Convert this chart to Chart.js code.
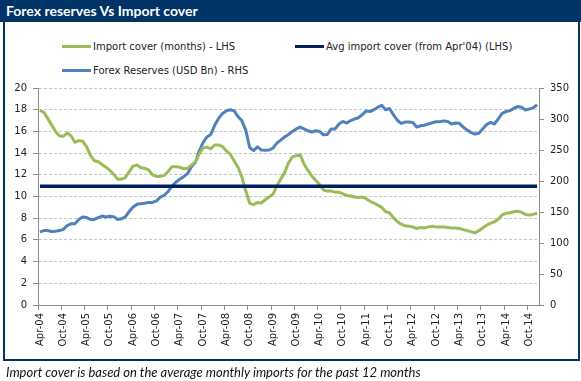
<!DOCTYPE html>
<html>
<head>
<meta charset="utf-8">
<script src="https://cdn.jsdelivr.net/npm/chart.js@4.4.1/dist/chart.umd.min.js"></script>
<style>
  html, body { margin: 0; padding: 0; background: #fff; }
  #wrap { position: relative; width: 581px; height: 381px; overflow: hidden; }
  #frame { position: absolute; left: 3px; top: 20px; width: 577px; height: 341px; border: 2px solid #003366; box-sizing: border-box; }
  #titleBar { position: absolute; left: 0; top: 0; width: 581px; height: 22px; background: #003366; color: #fff;
    font: bold 14px Lato, sans-serif; line-height: 22px; padding-left: 6px; box-sizing: border-box; }
  .lg { position: absolute; font: 10px "DejaVu Sans", sans-serif; color: #222; white-space: nowrap; height: 14px; line-height: 14px; }
  .lg i { display: inline-block; width: 29px; height: 3px; vertical-align: middle; margin-right: 2px; margin-top: -2px; }
  #note { position: absolute; left: 6px; top: 364px; font: italic 13px Lato, sans-serif; line-height: 16px; color: #111; white-space: nowrap; }
  canvas { position: absolute; left: 0; top: 0; }
</style>
</head>
<body>
<div id="wrap">
  <div id="frame"></div>
  <div id="titleBar">Forex reserves Vs Import cover</div>
  <div id="legend"></div>
  <canvas id="chart" width="581" height="381"></canvas>
  <div id="note">Import cover is based on the average monthly imports for the past 12 months</div>
</div>
<script>
// monthly categories, Apr-04 .. Dec-14
const months = [
  "Apr-04","May-04","Jun-04","Jul-04","Aug-04","Sep-04","Oct-04","Nov-04","Dec-04",
  "Jan-05","Feb-05","Mar-05","Apr-05","May-05","Jun-05","Jul-05","Aug-05","Sep-05","Oct-05","Nov-05","Dec-05",
  "Jan-06","Feb-06","Mar-06","Apr-06","May-06","Jun-06","Jul-06","Aug-06","Sep-06","Oct-06","Nov-06","Dec-06",
  "Jan-07","Feb-07","Mar-07","Apr-07","May-07","Jun-07","Jul-07","Aug-07","Sep-07","Oct-07","Nov-07","Dec-07",
  "Jan-08","Feb-08","Mar-08","Apr-08","May-08","Jun-08","Jul-08","Aug-08","Sep-08","Oct-08","Nov-08","Dec-08",
  "Jan-09","Feb-09","Mar-09","Apr-09","May-09","Jun-09","Jul-09","Aug-09","Sep-09","Oct-09","Nov-09","Dec-09",
  "Jan-10","Feb-10","Mar-10","Apr-10","May-10","Jun-10","Jul-10","Aug-10","Sep-10","Oct-10","Nov-10","Dec-10",
  "Jan-11","Feb-11","Mar-11","Apr-11","May-11","Jun-11","Jul-11","Aug-11","Sep-11","Oct-11","Nov-11","Dec-11",
  "Jan-12","Feb-12","Mar-12","Apr-12","May-12","Jun-12","Jul-12","Aug-12","Sep-12","Oct-12","Nov-12","Dec-12",
  "Jan-13","Feb-13","Mar-13","Apr-13","May-13","Jun-13","Jul-13","Aug-13","Sep-13","Oct-13","Nov-13","Dec-13",
  "Jan-14","Feb-14","Mar-14","Apr-14","May-14","Jun-14","Jul-14","Aug-14","Sep-14","Oct-14","Nov-14","Dec-14"
];

// import cover, months (LHS)
const importCover = [
  17.95, 17.75, 17.2, 16.6, 16.0, 15.6, 15.55, 15.85, 15.6,
  15.0, 15.15, 15.1, 14.6, 13.8, 13.3, 13.2, 12.95, 12.7, 12.4, 12.05, 11.6,
  11.6, 11.75, 12.3, 12.8, 12.9, 12.65, 12.6, 12.45, 12.0, 11.85, 11.85, 11.95,
  12.3, 12.75, 12.75, 12.7, 12.55, 12.6, 12.9, 13.2, 13.9, 14.5, 14.55, 14.4,
  14.75, 14.75, 14.6, 14.2, 13.9, 13.3, 12.7, 11.8, 10.5, 9.4, 9.25, 9.45,
  9.4, 9.7, 9.95, 10.2, 11.0, 11.6, 12.2, 13.1, 13.65, 13.75, 13.85, 13.0,
  12.4, 11.9, 11.5, 11.1, 10.6, 10.5, 10.5, 10.4, 10.4, 10.25, 10.1, 10.05,
  9.95, 9.9, 9.95, 9.8, 9.55, 9.4, 9.2, 9.0, 8.6, 8.5, 8.05, 7.7,
  7.45, 7.3, 7.25, 7.2, 7.05, 7.15, 7.1, 7.2, 7.25, 7.2, 7.2, 7.2,
  7.15, 7.1, 7.1, 7.05, 6.95, 6.85, 6.75, 6.65, 6.85, 7.1, 7.35, 7.55,
  7.65, 7.9, 8.3, 8.45, 8.5, 8.6, 8.65, 8.55, 8.35, 8.3, 8.35, 8.45
];

// forex reserves, USD bn (RHS)
const forexReserves = [
  118, 120, 120, 118.5, 119, 120, 122, 128, 131,
  131, 138, 142, 141, 138, 138, 141, 143.5, 142, 143, 142.5, 138,
  139, 142, 151, 158, 162.5, 163.5, 164, 165.5, 165.5, 168, 174, 177,
  183, 192, 198, 203, 207, 212, 223, 230, 248, 262, 271, 275,
  290, 301, 309, 313, 315, 313, 304, 297, 282, 254, 249, 255,
  250, 249.5, 250, 253, 261, 266, 271, 275, 280, 284, 287, 284,
  281, 279, 281, 280, 274.5, 275, 284, 284, 292, 296, 293.5, 297.5,
  300, 302, 307, 313, 312, 315, 319, 322, 315, 317, 307, 298,
  293, 295, 295, 294.5, 287, 289, 290, 292, 294, 295.5, 295.5, 297,
  296, 292, 293.5, 293, 287, 282, 278.5, 275.7, 277, 284, 291, 294.5,
  292, 300, 309, 312, 313.5, 317, 320, 319, 314.5, 316, 318, 323
];

// average import cover since Apr-04 (LHS)
const avgCover = 10.95;

const leftTicks = { min: 0, max: 20, step: 2 };
const rightTicks = { min: 0, max: 350, step: 50 };

const GREEN = "#9BBB59";
const BLUE = "#4F81BD";
const NAVY = "#002060";
const AXIS = "#8c8c8c";
const TXT = "#222";
const tickFont = { family: "DejaVu Sans", size: 10 };

const datasets = [
  { label: "Avg import cover (from Apr'04) (LHS)", data: months.map(() => avgCover), borderColor: NAVY,
    borderWidth: 3.5, yAxisID: "yL", legendAt: [295, 40] },
  { label: "Import cover (months) - LHS", data: importCover, borderColor: GREEN,
    borderWidth: 3, yAxisID: "yL", legendAt: [62, 40] },
  { label: "Forex Reserves (USD Bn) - RHS", data: forexReserves, borderColor: BLUE,
    borderWidth: 3, yAxisID: "yR", legendAt: [62, 64] }
];

// html legend, laid out like the excel grid
const legendEl = document.getElementById("legend");
datasets.forEach(ds => {
  const d = document.createElement("div");
  d.className = "lg";
  d.style.left = ds.legendAt[0] + "px";
  d.style.top = ds.legendAt[1] + "px";
  d.innerHTML = '<i style="background:' + ds.borderColor + '"></i>';
  d.appendChild(document.createTextNode(ds.label));
  legendEl.appendChild(d);
});

const sixMonthly = ctx => (ctx.index % 6 === 0 ? AXIS : "rgba(0,0,0,0)");

new Chart(document.getElementById("chart"), {
  type: "line",
  data: {
    labels: months,
    datasets: datasets.map(ds => ({
      label: ds.label,
      data: ds.data,
      borderColor: ds.borderColor,
      borderWidth: ds.borderWidth,
      yAxisID: ds.yAxisID,
      pointRadius: 0,
      fill: false,
      tension: 0,
      borderJoinStyle: "round"
    }))
  },
  options: {
    responsive: false,
    animation: false,
    layout: { padding: { top: 88, left: 0, right: 0, bottom: 0 } },
    plugins: { legend: { display: false }, tooltip: { enabled: false } },
    scales: {
      x: {
        type: "category",
        offset: true,
        afterFit: s => { s.height = 76; },
        grid: { offset: true, drawOnChartArea: false, tickLength: 5, color: sixMonthly, tickColor: sixMonthly },
        border: { color: AXIS, width: 1 },
        ticks: {
          autoSkip: false, minRotation: 90, maxRotation: 90, padding: 3,
          color: TXT, font: tickFont,
          callback: (v, i) => (i % 6 === 0 ? months[i] : "")
        }
      },
      yL: {
        position: "left",
        min: leftTicks.min, max: leftTicks.max,
        afterFit: s => { s.width = 38; },
        grid: { color: "#c4c4c4", tickColor: AXIS, tickLength: 5, tickBorderDash: [] },
        border: { color: AXIS, width: 1, dash: [3, 2] },
        ticks: { stepSize: leftTicks.step, padding: 6, color: TXT, font: tickFont }
      },
      yR: {
        position: "right",
        min: rightTicks.min, max: rightTicks.max,
        afterFit: s => { s.width = 42; },
        grid: { drawOnChartArea: false, tickColor: AXIS, tickLength: 5 },
        border: { color: AXIS, width: 1 },
        ticks: { stepSize: rightTicks.step, padding: 6, color: TXT, font: tickFont }
      }
    }
  }
});
</script>
</body>
</html>
